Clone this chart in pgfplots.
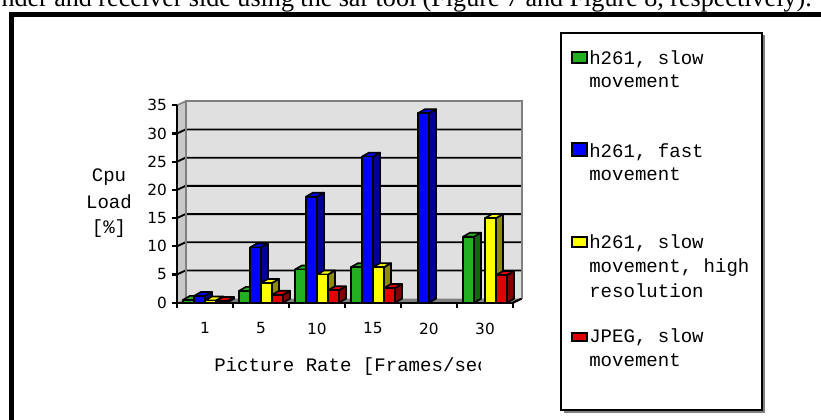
\documentclass[border=0pt]{standalone}
\usepackage{pgfplots}
\pgfplotsset{compat=1.18}
\usepackage{pgfplotstable}
\usepackage{fontspec}
\setmainfont{Liberation Serif}
\newfontfamily\monofont{Liberation Mono}
\newfontfamily\tickfont{DejaVu Sans}

\definecolor{wallback}{HTML}{E0E0E0}
\definecolor{wallside}{HTML}{C8C8C8}
\definecolor{wallfloor}{HTML}{808080}
\definecolor{bgreen}{HTML}{22B022}
\definecolor{bgreenside}{HTML}{146414}
\definecolor{bblue}{HTML}{0000FF}
\definecolor{bblueside}{HTML}{000090}
\definecolor{byellow}{HTML}{FFFF00}
\definecolor{byellowside}{HTML}{8C8C00}
\definecolor{bred}{HTML}{E00000}
\definecolor{bredside}{HTML}{800000}

% CPU load in percent per picture rate (nan = no bar)
\pgfplotstableread{
x green blue yellow red
0 0.5  1.2  0.4  0.3
1 2.1  9.8  3.5  1.4
2 5.9  18.8 5.0  2.2
3 6.3  25.9 6.3  2.6
4 nan  33.6 nan  nan
5 11.7 nan  15.0 4.9
}\cpuload

% 3D column drawn at the top-front-centre of each data point:
% #1 mark name, #2 horizontal shift (pt), #3 face colour, #4 side colour
\newcommand\defcuboid[4]{%
  \pgfdeclareplotmark{#1}{%
    \pgfmathsetmacro\cubh{\barval*4.23}%
    \pgfmathsetmacro\cubl{#2-4.125}%
    \pgfmathsetmacro\cubr{#2+4.125}%
    \pgfmathsetmacro\cubrr{#2+4.125+5.25}%
    \pgfmathsetmacro\cubll{#2-4.125+5.25}%
    \pgfmathsetmacro\cubs{3-\cubh}%
    \draw[fill=#4,line width=1.25pt,line join=round]
      (\cubr pt,-\cubh pt) -- (\cubrr pt,\cubs pt) -- (\cubrr pt,3pt) -- (\cubr pt,0pt) -- cycle;
    \draw[fill=#3,line width=1.25pt,line join=round]
      (\cubl pt,0pt) -- (\cubr pt,0pt) -- (\cubrr pt,3pt) -- (\cubll pt,3pt) -- cycle;
    \draw[fill=#3,line width=1.25pt,line join=round]
      (\cubl pt,-\cubh pt) rectangle (\cubr pt,0pt);
  }%
}
\defcuboid{cubgreen}{-12.375}{bgreen}{bgreenside}
\defcuboid{cubblue}{-4.125}{bblue}{bblueside}
\defcuboid{cubyellow}{4.125}{byellow}{byellowside}
\defcuboid{cubred}{12.375}{bred}{bredside}

\pgfplotsset{
  column3d/.style={only marks, scatter, mark=#1,
    scatter/@pre marker code/.code={},
    scatter/@post marker code/.code={}},
}

\begin{document}
\begin{tikzpicture}
\begin{scope}[x=0.75pt,y=0.75pt]
  \useasboundingbox (0,0) rectangle (821,419);
  \clip (0,0) rectangle (821,419);
  % last line of the justified paragraph above the figure frame
  \node[anchor=base east,inner sep=0,font=\fontsize{19.6}{23}\selectfont] at (812,412)
    {\makebox[624pt][s]{sender and receiver side using the sar tool (Figure 7 and Figure 8, respectively).}};
  % figure frame
  \draw[line width=3.75pt] (11,-5) -- (11,405) -- (830,405);
  % legend box
  \draw[line width=1.5pt,gray] (563.5,7.5) -- (763.5,7.5) -- (763.5,384);
  \draw[line width=1.5pt] (561,9) rectangle (762,386);
  \begin{scope}[every node/.style={anchor=base west,inner sep=0,font=\monofont\fontsize{14.3}{16}\selectfont}]
    \draw[fill=bgreen,line width=1.5pt] (572,356) rectangle (587,367);
    \node at (589,355) {h261, slow};
    \node at (589,332) {movement};
    \draw[fill=bblue,line width=1.5pt] (572,263) rectangle (587,276);
    \node at (589,262) {h261, fast};
    \node at (589,239) {movement};
    \draw[fill=byellow,line width=1.5pt] (572,172) rectangle (587,182);
    \node at (589,171) {h261, slow};
    \node at (589,147) {movement, high};
    \node at (589,122) {resolution};
    \draw[fill=bred,line width=1.5pt] (572,78) rectangle (587,86);
    \node at (589,77) {JPEG, slow};
    \node at (589,53) {movement};
  \end{scope}
  % axis titles
  \begin{scope}[every node/.style={inner sep=0,font=\monofont\fontsize{14.3}{16}\selectfont}]
    \node[anchor=base] at (109,237.5) {Cpu};
    \node[anchor=base] at (109,211) {Load};
    \node[anchor=base] at (109,186) {[\%]};
    \begin{scope}
      \clip (0,0) rectangle (480,419);
      \node[anchor=base west] at (214,48) {Picture Rate [Frames/sec]};
    \end{scope}
  \end{scope}
\end{scope}

\begin{axis}[
  at={(132.75pt,87.225pt)}, anchor=south west,
  x=42pt, y=4.23pt,
  xmin=-0.5, xmax=5.5, ymin=0, ymax=35,
  clip=false, axis on top,
  axis x line*=bottom, axis y line*=left,
  axis line style={line width=1.6pt,-},
  ytick={0,5,...,35},
  xtick={-0.5,0.5,...,5.5},
  x tick label as interval,
  xticklabels={1,5,10,15,20,30},
  tick align=outside,
  major tick length=4pt,
  tick style={black,line width=1.6pt},
  ticklabel style={font=\tickfont\fontsize{11.5}{13}\selectfont},
  xticklabel style={yshift=-7.5pt},
  /pgf/number format/assume math mode=true,
]
  % walls and floor of the 3D box
  \fill[wallback] ([shift={(6.375pt,3pt)}]axis cs:-0.5,0) rectangle ([shift={(6.375pt,3pt)}]axis cs:5.5,35);
  \fill[wallside] (axis cs:-0.5,0) -- (axis cs:-0.5,35) -- ([shift={(6.375pt,3pt)}]axis cs:-0.5,35) -- ([shift={(6.375pt,3pt)}]axis cs:-0.5,0) -- cycle;
  \fill[wallfloor] (axis cs:-0.5,0) -- (axis cs:5.5,0) -- ([shift={(6.375pt,3pt)}]axis cs:5.5,0) -- ([shift={(6.375pt,3pt)}]axis cs:-0.5,0) -- cycle;
  \pgfplotsinvokeforeach{5,10,...,30}{
    \draw[black,line width=1.4pt] (axis cs:-0.5,#1) -- ([shift={(6.375pt,3pt)}]axis cs:-0.5,#1) -- ([shift={(6.375pt,3pt)}]axis cs:5.5,#1);
  }
  \draw[wallfloor,line width=1.5pt] ([shift={(6.375pt,3pt)}]axis cs:-0.5,0) -- ([shift={(6.375pt,3pt)}]axis cs:-0.5,35) -- ([shift={(6.375pt,3pt)}]axis cs:5.5,35) -- ([shift={(6.375pt,3pt)}]axis cs:5.5,0);
  \draw[wallfloor,line width=1.2pt] (axis cs:-0.5,35) -- ([shift={(6.375pt,3pt)}]axis cs:-0.5,35);
  \draw[black,line width=1.6pt] (axis cs:5.5,0) -- ([shift={(6.375pt,3pt)}]axis cs:5.5,0);

  \addplot[column3d=cubgreen, visualization depends on={\thisrow{green} \as \barval}] table[x=x,y=green] {\cpuload};
  \addplot[column3d=cubblue, visualization depends on={\thisrow{blue} \as \barval}] table[x=x,y=blue] {\cpuload};
  \addplot[column3d=cubyellow, visualization depends on={\thisrow{yellow} \as \barval}] table[x=x,y=yellow] {\cpuload};
  \addplot[column3d=cubred, visualization depends on={\thisrow{red} \as \barval}] table[x=x,y=red] {\cpuload};
\end{axis}
\end{tikzpicture}
\end{document}
